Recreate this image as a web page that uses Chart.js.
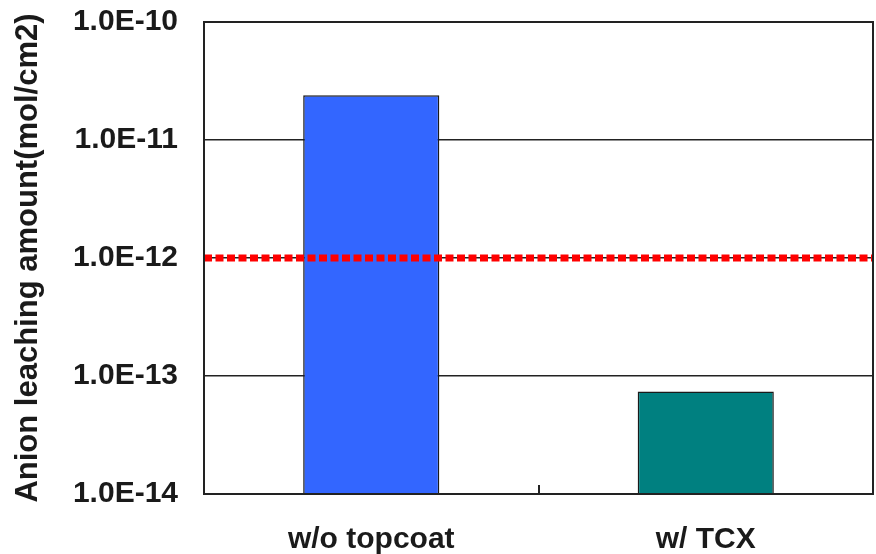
<!DOCTYPE html>
<html>
<head>
<meta charset="utf-8">
<script src="https://cdn.jsdelivr.net/npm/chart.js@4/dist/chart.umd.min.js"></script>
<style>
  html, body { margin: 0; padding: 0; background: #ffffff; }
  #wrap { width: 876px; height: 554px; }
</style>
</head>
<body>
<div id="wrap"><canvas id="c" width="876" height="554"></canvas></div>
<script>
const categories = ["w/o topcoat", "w/ TCX"];
const leachingValues = [2.4e-11, 7.4e-14];
const barColors = ["#3366FF", "#008080"];
const thresholdValue = 1e-12;
const yTickValues = [1e-14, 1e-13, 1e-12, 1e-11, 1e-10];
const yTickLabels = ["1.0E-14", "1.0E-13", "1.0E-12", "1.0E-11", "1.0E-10"];
const yAxisTitle = "Anion leaching amount(mol/cm2)";

const frame = {
  id: 'frame',
  afterDraw(chart) {
    const a = chart.chartArea, ctx = chart.ctx;
    ctx.save();
    ctx.strokeStyle = '#222222';
    ctx.lineWidth = 2;
    ctx.strokeRect(a.left, a.top, a.right - a.left, a.bottom - a.top);
    ctx.restore();
  }
};

const FONT = 'Liberation Sans, Arial, sans-serif';

new Chart(document.getElementById('c'), {
  type: 'bar',
  data: {
    labels: categories,
    datasets: [
      {
        type: 'bar',
        data: leachingValues,
        backgroundColor: barColors,
        borderColor: '#1a1a1a',
        borderWidth: 1.5,
        grouped: false,
        categoryPercentage: 1,
        barPercentage: 0.407,
        order: 2
      },
      {
        type: 'line',
        xAxisID: 'x2',
        data: [{x: 0, y: thresholdValue}, {x: 1, y: thresholdValue}],
        borderColor: '#ff0000',
        borderWidth: 7,
        borderDash: [8, 3.5],
        borderCapStyle: 'butt',
        pointRadius: 0,
        fill: false,
        order: 1
      }
    ]
  },
  plugins: [frame],
  options: {
    responsive: false,
    animation: false,
    devicePixelRatio: 1,
    layout: { padding: { top: 22, right: 3, left: 0, bottom: 0 } },
    plugins: { legend: { display: false }, tooltip: { enabled: false } },
    scales: {
      x: {
        type: 'category',
        offset: true,
        grid: { display: true, drawOnChartArea: false, drawTicks: true, tickLength: -9, color: '#222222', lineWidth: 2 },
        border: { display: true, color: '#222222', width: 2 },
        ticks: { color: '#1a1a1a', padding: 37, font: { family: FONT, size: 30, weight: 'bold' } },
        afterFit(s) { s.height = 60; s.paddingLeft = 0; s.paddingRight = 0; }
      },
      x2: {
        type: 'linear',
        display: false,
        min: 0,
        max: 1,
        offset: false
      },
      y: {
        type: 'logarithmic',
        min: 1e-14,
        max: 1e-10,
        afterBuildTicks(s) { s.ticks = yTickValues.map(v => ({ value: v, major: true })); },
        grid: { color: '#222222', lineWidth: 1.5, drawTicks: false },
        border: { display: true, color: '#222222', width: 2 },
        ticks: {
          color: '#1a1a1a',
          padding: 26,
          font: { family: FONT, size: 30, weight: 'bold' },
          callback(v) { const i = yTickValues.findIndex(t => Math.abs(Math.log10(t) - Math.log10(v)) < 1e-6); return i >= 0 ? yTickLabels[i] : ''; }
        },
        title: {
          display: true,
          text: yAxisTitle,
          color: '#1a1a1a',
          padding: { top: 10, bottom: 0 },
          font: { family: FONT, size: 31, weight: 'bold' }
        },
        afterFit(s) { s.width = 204; s.paddingTop = 0; s.paddingBottom = 0; }
      }
    }
  }
});
</script>
</body>
</html>
